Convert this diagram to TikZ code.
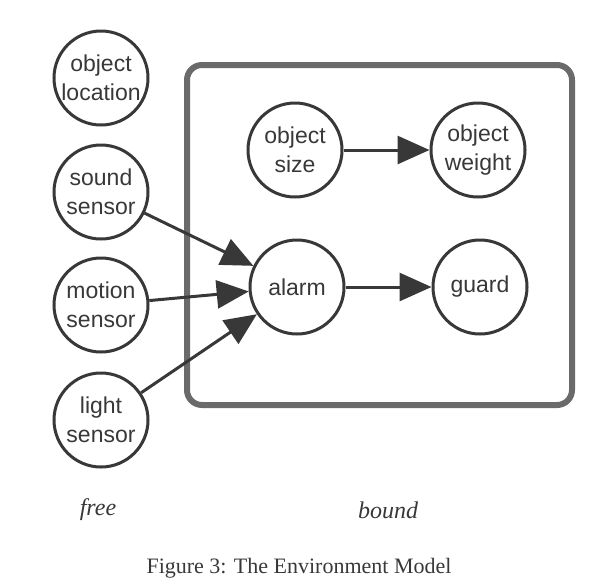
\documentclass[tikz,border=0pt]{standalone}
\usepackage{fontspec}
\setmainfont{Liberation Serif}
\setsansfont{Liberation Sans}
\usetikzlibrary{arrows.meta}
\definecolor{ink}{gray}{0.22}
\tikzset{
  var/.style={draw=ink,line width=1.5pt,circle,minimum size=47pt,inner sep=0pt,align=center,text=ink,
    font=\sffamily\fontsize{11.5}{14.5}\selectfont},
  link/.style={draw=ink,line width=1.5pt,-{Triangle[length=16pt,width=14pt]}},
  tag/.style={text=ink,font=\itshape\fontsize{12}{14}\selectfont}
}
\begin{document}
\begin{tikzpicture}[x=0.5pt,y=-0.5pt]
  \useasboundingbox (0,0) rectangle (598,584);
  % bound part
  \draw[ink!75,line width=3pt,rounded corners=7.5pt] (187,65) rectangle (572,405);
  \node[var] (location) at (101,78) {object\\location};
  \node[var] (sound) at (101,192) {sound\\sensor};
  \node[var] (motion) at (101,305) {motion\\sensor};
  \node[var] (light) at (101,420) {light\\sensor};
  \node[var] (size) at (295,150) {object\\size};
  \node[var] (weight) at (478,150) {object\\weight};
  \node[var] (alarm) at (297,287) {alarm};
  \node[var] (guard) at (480,287) {guard};
  \draw[link] (size) -- (weight);
  \draw[link] (alarm) -- (guard);
  \draw[link] (sound) -- (alarm);
  \draw[link] (motion) -- (alarm);
  \draw[link] (light) -- (alarm);
  \node[tag] (free) at (98,510) {free};
  \node[tag] (bound) at (388,510) {bound};
  \node[text=ink,font=\fontsize{11}{13}\selectfont] (caption) at (299,568) {Figure 3: The Environment Model};
\end{tikzpicture}
\end{document}
